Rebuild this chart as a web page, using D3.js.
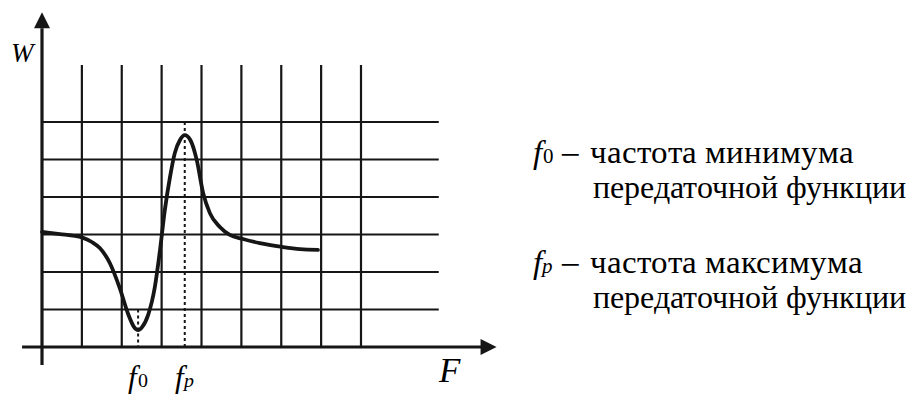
<!DOCTYPE html>
<html><head><meta charset="utf-8"><script src="https://cdn.jsdelivr.net/npm/d3@7"></script>
<style>
  @font-face { font-family: "ChartSerif"; font-style: normal; src: local("Liberation Serif"), local("LiberationSerif"), local("Liberation Serif Regular"); }
  @font-face { font-family: "ChartSerif"; font-style: italic; src: local("Liberation Serif Italic"), local("LiberationSerif-Italic"); }
  svg text, svg tspan { font-family: 'ChartSerif', 'Liberation Serif', 'Times New Roman', 'Tinos', serif !important; }
</style>
</head>
<body style="margin:0">
<svg id="chart" width="917" height="395"></svg>
<script>
// Response curve W(F), in grid units
const freq = [0, 0.45, 0.83, 1.03, 1.25, 1.45, 1.70, 1.95, 2.16, 2.31, 2.41, 2.51, 2.66, 2.83, 2.96, 3.08, 3.21, 3.33, 3.46, 3.58, 3.72, 3.88, 4.04, 4.21, 4.46, 4.71, 5.04, 5.46, 6.02, 6.47, 6.92];
const gain = [3.07, 3.01, 2.96, 2.91, 2.80, 2.64, 2.24, 1.57, 0.88, 0.53, 0.45, 0.53, 0.85, 1.60, 2.59, 3.65, 4.53, 5.17, 5.52, 5.65, 5.52, 4.99, 4.11, 3.57, 3.20, 2.99, 2.88, 2.77, 2.67, 2.61, 2.59];

// Grid lines
const vGrid = [1, 2, 3, 4, 5, 6, 7, 8];
const hGrid = [1, 2, 3, 4, 5, 6];

// Marked frequencies: minimum and maximum of the transfer function
const markers = [
  { name: "f0", F: 2.41, from: 1, sub: "0", subItalic: false },
  { name: "fp", F: 3.58, from: 6, sub: "p", subItalic: true }
];

// Legend lines
const legendItems = [
  { sub: "0", subItalic: false, lines: ["частота минимума", "передаточной функции"] },
  { sub: "p", subItalic: true, lines: ["частота максимума", "передаточной функции"] }
];

const fam = "'ChartSerif', 'Liberation Serif', 'Times New Roman', 'Tinos', 'FreeSerif', 'DejaVu Serif', serif";
const svg = d3.select("#chart");
const x = d3.scaleLinear().domain([0, 8]).range([42, 361]);
const y = d3.scaleLinear().domain([0, 6]).range([347, 122]);

const ink = "#161616";
const g = svg.append("g");

// vertical grid
g.selectAll("line.v").data(vGrid).join("line")
  .attr("x1", d => x(d)).attr("x2", d => x(d))
  .attr("y1", y(0)).attr("y2", y(7.52))
  .attr("stroke", ink).attr("stroke-width", 2.2);

// horizontal grid
g.selectAll("line.h").data(hGrid).join("line")
  .attr("x1", x(0)).attr("x2", x(9.95))
  .attr("y1", d => y(d)).attr("y2", d => y(d))
  .attr("stroke", ink).attr("stroke-width", 2.2);

// axes
g.append("line")
  .attr("x1", x(-0.5)).attr("x2", x(11.05))
  .attr("y1", y(0)).attr("y2", y(0))
  .attr("stroke", ink).attr("stroke-width", 3.2);
g.append("line")
  .attr("x1", x(0)).attr("x2", x(0))
  .attr("y1", y(-0.48)).attr("y2", y(8.5))
  .attr("stroke", ink).attr("stroke-width", 3.2);

// arrow heads
const xt = x(11.4), yt = y(0);
g.append("path")
  .attr("d", `M${xt},${yt} L${xt - 16},${yt - 8} L${xt - 16},${yt + 8} Z`)
  .attr("fill", ink);
const ax = x(0), ay = y(8.93);
g.append("path")
  .attr("d", `M${ax},${ay} L${ax - 8},${ay + 16} L${ax + 8},${ay + 16} Z`)
  .attr("fill", ink);

// dashed marker lines
g.selectAll("line.m").data(markers).join("line")
  .attr("x1", d => x(d.F)).attr("x2", d => x(d.F))
  .attr("y1", d => y(d.from)).attr("y2", y(0))
  .attr("stroke", ink).attr("stroke-width", 2)
  .attr("stroke-dasharray", "3,3");

// curve
const pts = freq.map((f, i) => [f, gain[i]]);
const line = d3.line().x(d => x(d[0])).y(d => y(d[1])).curve(d3.curveMonotoneX);
g.append("path").datum(pts)
  .attr("d", line)
  .attr("fill", "none").attr("stroke", ink)
  .attr("stroke-width", 3.8).attr("stroke-linejoin", "round").attr("stroke-linecap", "round");

function label(xp, yp, size) {
  return svg.append("text").attr("x", xp).attr("y", yp).attr("font-size", size)
    .style("font-family", fam, "important");
}

// axis titles
label(11, 62, 27).attr("font-style", "italic").text("W");
label(439, 382, 35).attr("font-style", "italic").text("F");

// f with index
function symbol(sel, sub, subItalic, sSize) {
  sel.append("tspan").attr("font-style", "italic").text("f");
  sel.append("tspan").attr("font-style", subItalic ? "italic" : "normal")
    .attr("font-size", sSize).attr("dx", subItalic ? 0 : 1).text(sub);
}
markers.forEach(m => {
  symbol(label(x(m.F) - 10, 387, 31), m.sub, m.subItalic, 20);
});

// legend
legendItems.forEach((item, i) => {
  const base = 163 + i * 110;
  symbol(label(533, base, 33), item.sub, item.subItalic, 21);
  label(562, base, 33).text("–");
  const l1 = label(590, base, 33).text(item.lines[0]);
  const l2 = label(593, base + 35, 33).text(item.lines[1]);
  // keep the description inside the right edge of the canvas
  [l1, l2].forEach(t => {
    const avail = 910 - (+t.attr("x"));
    const len = t.node().getComputedTextLength();
    if (len > avail) t.attr("font-size", 33 * avail / len);
  });
});
</script>
</body>
</html>
